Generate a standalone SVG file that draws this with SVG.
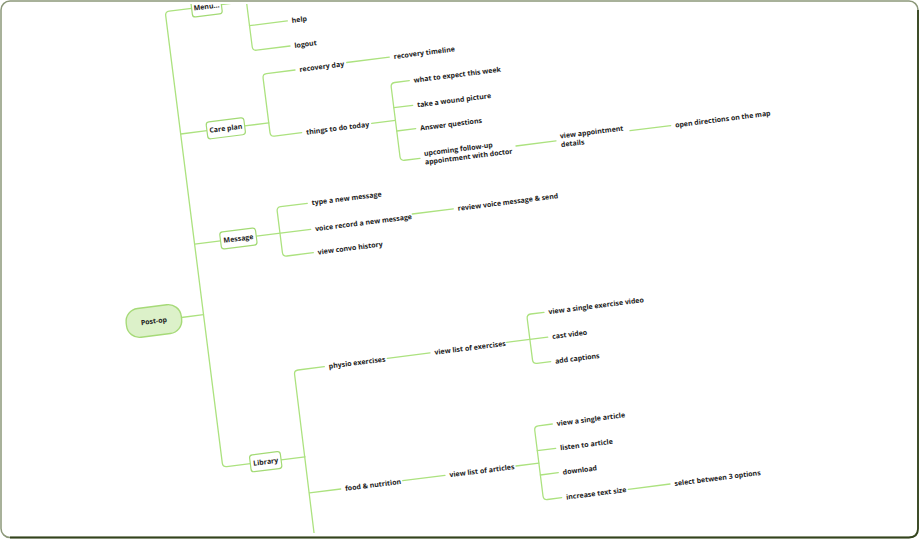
<svg xmlns="http://www.w3.org/2000/svg" width="920" height="539" viewBox="0 0 920 539">
  <defs>
    <clipPath id="sheet">
      <rect x="0" y="4" width="920" height="529"/>
    </clipPath>
  </defs>
  <style>
    .link { fill: none; stroke: #ace27f; stroke-width: 1.3; stroke-linecap: round; stroke-linejoin: round; }
    .box { fill: #ffffff; stroke: #a3da75; stroke-width: 1.2; }
    .root { fill: #dcf1c9; stroke: #a6da78; stroke-width: 1.4; }
    text { font-family: "Open Sans", "Noto Sans", "DejaVu Sans", sans-serif; font-weight: 700; font-size: 7px; fill: #222222; }
    .mid { text-anchor: middle; }
  </style>

  <rect x="0" y="0" width="920" height="539" fill="#ffffff"/>

  <g clip-path="url(#sheet)">
    <!-- connectors -->
    <g id="connectors">
      <!-- main spine -->
      <path class="link" d="M191.6 8.4 L169.2 11.2 Q165.2 11.7 165.7 15.7 L222.3 463.1 Q222.8 467.1 226.8 466.6 L250.3 463.6"/>
      <path class="link" d="M180.8 134 L207 130.7"/>
      <path class="link" d="M194.65 244.05 L220.5 240.8"/>
      <path class="link" d="M181.4 317.5 L203.5 314.7"/>

      <!-- Menu branch -->
      <path class="link" d="M221.4 4.6 L246.6 1.4"/>
      <path class="link" d="M243.7 -20 L252.2 46.73 Q252.7 50.7 256.67 50.2 L290 46"/>
      <path class="link" d="M249.5 25.7 L287.3 20.94"/>

      <!-- Care plan branch -->
      <path class="link" d="M244.65 125.9 L268.8 122.9"/>
      <path class="link" d="M295 70 L266.57 73.6 Q262.6 74.1 263.1 78.07 L270 132.63 Q270.5 136.6 274.47 136.1 L301.7 132.7"/>
      <path class="link" d="M346.7 62.5 L389.3 57.1"/>
      <path class="link" d="M371.7 123.3 L395.4 120.3"/>
      <path class="link" d="M409.3 80.7 L394.67 82.5 Q390.7 83 391.2 86.97 L400 156.78 Q400.5 160.75 404.47 160.25 L420 158.3"/>
      <path class="link" d="M393.85 107.7 L412.7 105.4"/>
      <path class="link" d="M396.8 131 L415.7 128.6"/>
      <path class="link" d="M516 146 L556 140.9"/>
      <path class="link" d="M630 130.7 L670.7 125.6"/>

      <!-- Message branch -->
      <path class="link" d="M256.3 236.2 L310.7 229.3"/>
      <path class="link" d="M307.3 203.3 L280.67 206.7 Q276.7 207.2 277.2 211.17 L282.4 252.53 Q282.9 256.5 286.87 256 L313.3 252.7"/>
      <path class="link" d="M412.3 214 L453.3 208.9"/>

      <!-- Library branch -->
      <path class="link" d="M281.1 459.8 L305 456.8"/>
      <path class="link" d="M324.3 366.7 L298.07 370 Q294.1 370.5 294.6 374.47 L314.9 540"/>
      <path class="link" d="M309.5 492.9 L340.7 489"/>
      <path class="link" d="M387.3 358.3 L430 352.9"/>
      <path class="link" d="M506.7 342.3 L547.7 337.1"/>
      <path class="link" d="M544 312.3 L530.67 314 Q526.7 314.5 527.2 318.47 L532.5 359.93 Q533 363.9 536.97 363.4 L550.7 361.7"/>
      <path class="link" d="M402.7 480.7 L445 475.4"/>
      <path class="link" d="M516 466 L538.9 463.1"/>
      <path class="link" d="M552.3 424 L538.22 425.8 Q534.25 426.3 534.75 430.27 L543 496.03 Q543.5 500 547.47 499.5 L561.7 497.7"/>
      <path class="link" d="M537.3 450.7 L555.7 448.4"/>
      <path class="link" d="M540.4 475 L558.3 472.7"/>
      <path class="link" d="M628.3 489.3 L670 484"/>
    </g>

    <!-- framed topics -->
    <g id="post-op" transform="translate(153.9 321) rotate(-7.2)">
      <rect class="root" x="-27.75" y="-14.5" width="55.5" height="29" rx="13"/>
      <text class="mid" x="0" y="2.5">Post-op</text>
    </g>
    <g id="menu" transform="translate(206.5 6.5) rotate(-7.2)">
      <rect class="box" x="-15" y="-9" width="30" height="18" rx="3"/>
      <text class="mid" x="0" y="2.5">Menu...</text>
    </g>
    <g id="care-plan" transform="translate(225.8 128.3) rotate(-7.2)">
      <rect class="box" x="-19" y="-8.5" width="38" height="17" rx="3"/>
      <text class="mid" x="0" y="2.5">Care plan</text>
    </g>
    <g id="message" transform="translate(238.4 238.5) rotate(-7.2)">
      <rect class="box" x="-18" y="-8.5" width="36" height="17" rx="3"/>
      <text class="mid" x="0" y="2.5">Message</text>
    </g>
    <g id="library" transform="translate(265.7 461.7) rotate(-7.2)">
      <rect class="box" x="-15.5" y="-8.5" width="31" height="17" rx="3"/>
      <text class="mid" x="0" y="2.5">Library</text>
    </g>

    <!-- plain topics -->
    <g id="help"><text transform="translate(291.7 20.4) rotate(-7.2)" y="2.5">help</text></g>
    <g id="logout"><text transform="translate(294.4 45.45) rotate(-7.2)" y="2.5">logout</text></g>

    <g id="recovery-day"><text transform="translate(299.4 69.45) rotate(-7.2)" y="2.5">recovery day</text></g>
    <g id="recovery-timeline"><text transform="translate(393.7 56.55) rotate(-7.2)" y="2.5">recovery timeline</text></g>
    <g id="things-to-do"><text transform="translate(306.1 132.15) rotate(-7.2)" y="2.5">things to do today</text></g>
    <g id="what-to-expect"><text transform="translate(413.7 80.15) rotate(-7.2)" y="2.5">what to expect this week</text></g>
    <g id="wound-picture"><text transform="translate(417.1 104.85) rotate(-7.2)" y="2.5">take a wound picture</text></g>
    <g id="answer-questions"><text transform="translate(420.1 128.05) rotate(-7.2)" y="2.5">Answer questions</text></g>
    <g id="follow-up"><text transform="translate(424.4 157.75) rotate(-7.2)"><tspan x="0" y="-1.85">upcoming follow-up</tspan><tspan x="0" y="6.85">appointment with doctor</tspan></text></g>
    <g id="appointment-details"><text transform="translate(560.4 140.35) rotate(-7.2)"><tspan x="0" y="-1.85">view appointment</tspan><tspan x="0" y="6.85">details</tspan></text></g>
    <g id="directions"><text transform="translate(675.1 125.05) rotate(-7.2)" y="2.5">open directions on the map</text></g>

    <g id="type-message"><text transform="translate(311.7 202.75) rotate(-7.2)" y="2.5">type a new message</text></g>
    <g id="voice-record"><text transform="translate(315.1 228.75) rotate(-7.2)" y="2.5">voice record a new message</text></g>
    <g id="review-voice"><text transform="translate(457.7 208.35) rotate(-7.2)" y="2.5">review voice message &amp; send</text></g>
    <g id="convo-history"><text transform="translate(317.7 252.15) rotate(-7.2)" y="2.5">view convo history</text></g>

    <g id="physio"><text transform="translate(328.7 366.15) rotate(-7.2)" y="2.5">physio exercises</text></g>
    <g id="exercise-list"><text transform="translate(434.4 352.35) rotate(-7.2)" y="2.5">view list of exercises</text></g>
    <g id="exercise-video"><text transform="translate(548.4 311.75) rotate(-7.2)" y="2.5">view a single exercise video</text></g>
    <g id="cast-video"><text transform="translate(552.1 336.55) rotate(-7.2)" y="2.5">cast video</text></g>
    <g id="captions"><text transform="translate(555.1 361.15) rotate(-7.2)" y="2.5">add captions</text></g>

    <g id="food"><text transform="translate(345.1 488.45) rotate(-7.2)" y="2.5">food &amp; nutrition</text></g>
    <g id="article-list"><text transform="translate(449.4 474.85) rotate(-7.2)" y="2.5">view list of articles</text></g>
    <g id="single-article"><text transform="translate(556.7 423.45) rotate(-7.2)" y="2.5">view a single article</text></g>
    <g id="listen"><text transform="translate(560.1 447.85) rotate(-7.2)" y="2.5">listen to article</text></g>
    <g id="download"><text transform="translate(562.7 472.15) rotate(-7.2)" y="2.5">download</text></g>
    <g id="text-size"><text transform="translate(566.1 497.15) rotate(-7.2)" y="2.5">increase text size</text></g>
    <g id="size-options"><text transform="translate(674.4 483.45) rotate(-7.2)" y="2.5">select between 3 options</text></g>
  </g>

  <!-- sheet frame -->
  <rect x="1" y="1" width="917" height="536.5" rx="9" fill="none" stroke="#8c987a" stroke-width="1.5"/>
  <path d="M909 537.5 Q918 537.5 918 528.5 L918 10 M909 537.5 L10 537.5" fill="none" stroke="#33431d" stroke-width="1.8"/>
</svg>
